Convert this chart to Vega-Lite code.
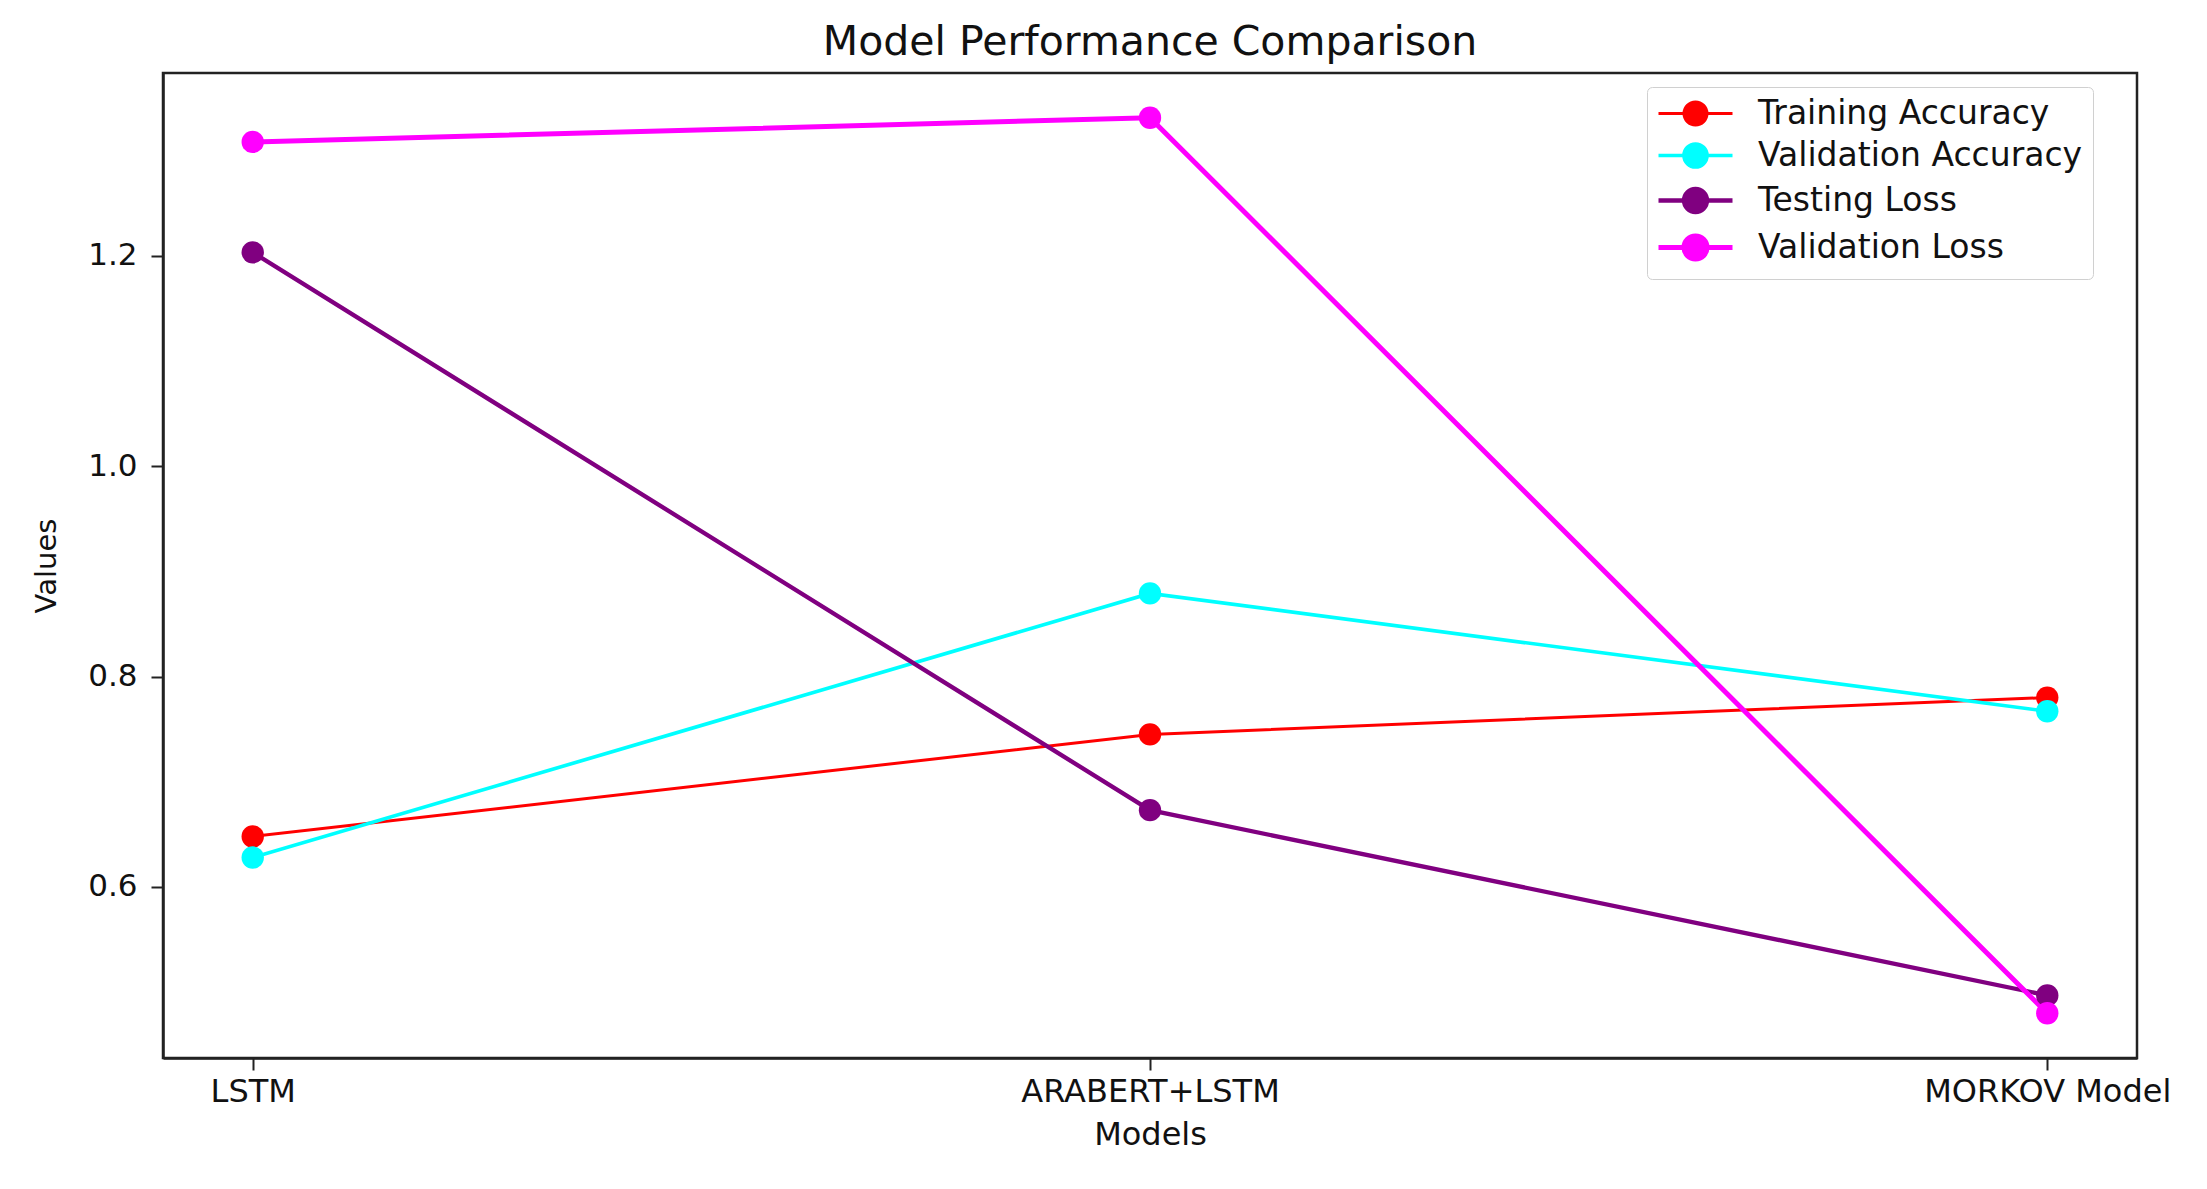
{
  "$schema": "https://vega.github.io/schema/vega-lite/v6.json",
  "autosize": "none",
  "width": 1974,
  "height": 985,
  "padding": {"left": 163, "top": 73, "right": 70, "bottom": 131},
  "background": "white",
  "config": {
    "font": "DejaVu Sans",
    "view": {"stroke": "#222", "strokeWidth": 2.5},
    "axis": {"grid": false, "domainColor": "#222", "domainWidth": 2.5, "tickColor": "#222", "tickWidth": 2, "tickSize": 12, "labelColor": "#111", "titleColor": "#111", "labelFont": "DejaVu Sans", "titleFont": "DejaVu Sans", "titleFontWeight": "normal"}
  },
  "title": {"text": "Model Performance Comparison", "fontSize": 41, "fontWeight": "normal", "color": "#111", "anchor": "middle", "baseline": "alphabetic", "offset": -23, "font": "DejaVu Sans"},
  "data": {"values": [
    {"model": "LSTM", "series": "Training Accuracy", "value": 0.648},
    {"model": "ARABERT+LSTM", "series": "Training Accuracy", "value": 0.745},
    {"model": "MORKOV Model", "series": "Training Accuracy", "value": 0.780},
    {"model": "LSTM", "series": "Validation Accuracy", "value": 0.628},
    {"model": "ARABERT+LSTM", "series": "Validation Accuracy", "value": 0.879},
    {"model": "MORKOV Model", "series": "Validation Accuracy", "value": 0.767},
    {"model": "LSTM", "series": "Testing Loss", "value": 1.203},
    {"model": "ARABERT+LSTM", "series": "Testing Loss", "value": 0.673},
    {"model": "MORKOV Model", "series": "Testing Loss", "value": 0.497},
    {"model": "LSTM", "series": "Validation Loss", "value": 1.308},
    {"model": "ARABERT+LSTM", "series": "Validation Loss", "value": 1.331},
    {"model": "MORKOV Model", "series": "Validation Loss", "value": 0.480}
  ]},
  "encoding": {
    "x": {"field": "model", "type": "ordinal", "sort": ["LSTM", "ARABERT+LSTM", "MORKOV Model"],
      "scale": {"type": "point", "padding": 0.1},
      "axis": {"title": "Models", "labelAngle": 0, "labelFontSize": 32, "titleFontSize": 32, "labelPadding": 6, "titlePadding": 12, "labelLimit": 500}},
    "y": {"field": "value", "type": "quantitative",
      "scale": {"domain": [0.4375, 1.3735], "nice": false, "zero": false},
      "axis": {"title": "Values", "values": [0.6, 0.8, 1.0, 1.2], "format": ".1f", "labelFontSize": 31, "titleFontSize": 29, "labelPadding": 14, "titlePadding": 26}},
    "color": {"field": "series", "type": "nominal",
      "scale": {"domain": ["Training Accuracy", "Validation Accuracy", "Testing Loss", "Validation Loss"], "range": ["#ff0000", "#00ffff", "#800080", "#ff00ff"]},
      "legend": {
        "title": null, "orient": "none", "legendX": 1484, "legendY": 14,
        "symbolType": "M-1.5,0L5.9,0M1.05,0A1.15,1.15,0,1,0,3.35,0A1.15,1.15,0,1,0,1.05,0Z",
        "symbolSize": 400, "symbolStrokeWidth": 3.5,
        "labelFontSize": 33, "labelFont": "DejaVu Sans", "labelColor": "#111", "labelOffset": 68, "labelLimit": 600,
        "rowPadding": 5, "padding": 10,
        "strokeColor": "#d0d0d0", "fillColor": "white", "cornerRadius": 5,
        "encode": {"symbols": {"update": {"fill": {"scale": "color", "field": "value"}, "stroke": {"scale": "color", "field": "value"}, "opacity": {"value": 1}, "strokeWidth": {"value": 3.5}}}}
      }
    }
  },
  "layer": [
    {
      "mark": {"type": "line"},
      "encoding": {
        "strokeWidth": {"field": "series", "type": "nominal", "legend": null,
          "scale": {"domain": ["Training Accuracy", "Validation Accuracy", "Testing Loss", "Validation Loss"], "range": [3, 5, 3, 3]}}
      }
    },
    {
      "mark": {"type": "point", "filled": true, "opacity": 1, "size": 500}
    }
  ]
}
